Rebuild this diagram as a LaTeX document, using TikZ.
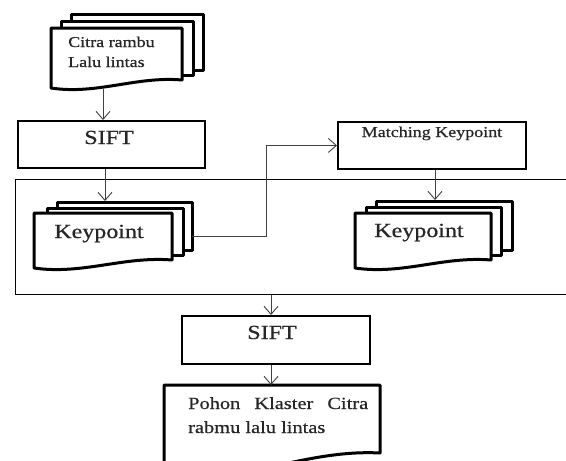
\documentclass[tikz,border=0pt]{standalone}
\usepackage{fontspec}
\setmainfont{Liberation Serif}[FakeStretch=1.2,FakeBold=0.6]
\usetikzlibrary{arrows.meta}
\tikzset{
  conn/.style={draw=black!75, line width=0.9pt, -{Straight Barb[length=8pt,width=14pt,line width=0.9pt]}},
  box/.style={draw=black, line width=1.9pt, fill=white, inner sep=0pt, anchor=north west},
  docline/.style={draw=black, line width=3pt, fill=white, line join=round},
  frame/.style={draw=black, line width=1.4pt, inner sep=0pt, anchor=north west},
  lbl/.style={anchor=base, inner sep=0pt, text=black!85},
}
\newcommand\docshape[5]{% left top right bottom-left bottom-right
  \path[docline] (#1,#2) -- (#3,#2) -- (#3,#5)
    .. controls ({#3-0.35*(#3-#1)},{#5-4}) and ({#1+0.35*(#3-#1)},{#4+7}) .. (#1,#4) -- cycle;
}
\newcommand\backsheet[4]{\path[docline] (#1,#2) rectangle (#3,#4);}
\begin{document}
\begin{tikzpicture}[x=1pt,y=-1pt]
\useasboundingbox (0,0) rectangle (566,461);
\clip (0,0) rectangle (566,461);

% big frame
\node[frame, minimum width=600pt, minimum height=115pt] (frame) at (15,179) {};

% top document stack
\backsheet{71}{14}{203}{70}
\backsheet{61}{21}{193}{75}
\docshape{51}{28}{182}{88}{80}
\node[lbl, anchor=base west, font=\fontsize{15}{20}\selectfont] (citra) at (68,47) {Citra rambu};
\node[lbl, anchor=base west, font=\fontsize{15}{20}\selectfont] (lalu) at (68,67) {Lalu lintas};
\coordinate (citraB) at (103,89);

% SIFT 1
\node[box, minimum width=187pt, minimum height=47pt] (sift1) at (17,120) {};
\node[lbl, font=\fontsize{20}{20}\selectfont] (sift1t) at (109,144) {SIFT};

% Matching
\node[box, minimum width=188pt, minimum height=47pt] (match) at (337,121) {};
\node[lbl, font=\fontsize{15}{15}\selectfont] (matcht) at (432,137) {Matching Keypoint};

% left keypoint stack
\backsheet{57}{202}{192}{250}
\backsheet{47}{208}{183}{255}
\docshape{34}{213}{172}{268}{260}
\node[lbl, font=\fontsize{20}{20}\selectfont] (kp1) at (99,238) {Keypoint};
\coordinate (kp1top) at (105,201);
\coordinate (kp1R) at (192,236);
\coordinate (elbow) at (266,236);

% right keypoint stack
\backsheet{376}{201}{512}{250}
\backsheet{366}{207}{501}{255}
\docshape{355}{213}{491}{268}{260}
\node[lbl, font=\fontsize{20}{20}\selectfont] (kp2) at (419,237) {Keypoint};
\coordinate (kp2top) at (435,200);

% SIFT 2
\node[box, minimum width=188pt, minimum height=48pt] (sift2) at (181,315) {};
\node[lbl, font=\fontsize{20}{20}\selectfont] (sift2t) at (272,339) {SIFT};
\coordinate (s2in) at (271,315);

% bottom document
\docshape{164}{385}{380}{478}{453}
\node[lbl, anchor=base west, font=\fontsize{17}{24}\selectfont] (pohon) at (188,409) {\makebox[180pt][s]{Pohon Klaster Citra}};
\node[lbl, anchor=base west, font=\fontsize{17}{24}\selectfont] (rabmu) at (188,433) {rabmu lalu lintas};
\coordinate (pohonT) at (271,385);

% connectors
\draw[conn] (citraB) -- (citraB |- sift1.north);
\draw[conn] (sift1.south -| kp1top) -- (kp1top);
\draw[conn] (kp1R) -- (elbow) |- (match.west);
\draw[conn] (match.south -| kp2top) -- (kp2top);
\draw[conn] (frame.south -| s2in) -- (s2in);
\draw[conn] (sift2.south -| pohonT) -- (pohonT);
\end{tikzpicture}
\end{document}
